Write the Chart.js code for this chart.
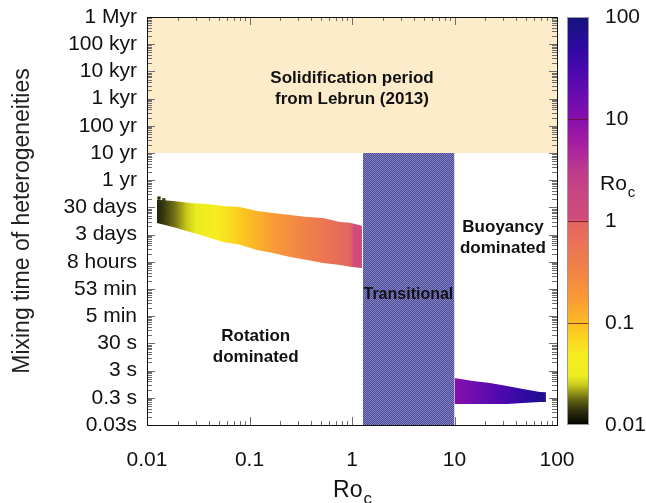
<!DOCTYPE html>
<html>
<head>
<meta charset="utf-8">
<script src="https://cdn.jsdelivr.net/npm/chart.js@4.4.0/dist/chart.umd.min.js"></script>
<style>
  html, body { margin: 0; padding: 0; background: #fff; }
  #wrap { width: 646px; height: 503px; }
</style>
</head>
<body>
<div id="wrap"><canvas id="mixChart" width="646" height="503"></canvas></div>
<script>
// Ro_c axis (also used by the colour bar)
const roTicks = [0.01, 0.1, 1, 10, 100];
const roTickLabels = ['0.01', '0.1', '1', '10', '100'];

// mixing time axis, values in years
const timeTicks = [1e-9, 1e-8, 1e-7, 1e-6, 1e-5, 1e-4, 1e-3, 1e-2, 1e-1, 1, 10, 100, 1e3, 1e4, 1e5, 1e6];
const timeTickLabels = ['0.03s', '0.3 s', '3 s', '30 s', '5 min', '53 min', '8 hours', '3 days',
                        '30 days', '1 yr', '10 yr', '100 yr', '1 kyr', '10 kyr', '100 kyr', '1 Myr'];

// rotation dominated runs: upper / lower envelope of mixing time (yr)
const rotRo    = [0.0125, 0.0179, 0.0263, 0.0385, 0.0551, 0.0808, 0.118, 0.170, 0.249, 0.364, 0.521, 0.764, 0.955, 1.25];
const rotUpper = [0.19, 0.172, 0.145, 0.133, 0.112, 0.104, 0.074, 0.062, 0.053, 0.044, 0.041, 0.029, 0.027, 0.021];
const rotLower = [0.0267, 0.0190, 0.0125, 0.0082, 0.0054, 0.0042, 0.0027, 0.0021, 0.0015, 0.00116, 0.0009, 0.00076, 0.00066, 0.00059];
// a couple of stray runs above the envelope
const rotStrayRo = [0.0131, 0.0146];
const rotStrayT  = [0.22, 0.19];

// buoyancy dominated runs
const buoyRo    = [10.0, 15.1, 22.2, 32.5, 46.6, 68.2, 78];
const buoyUpper = [5.35e-8, 4.15e-8, 3.5e-8, 2.71e-8, 2.11e-8, 1.63e-8, 1.6e-8];
const buoyLower = [5.9e-9, 5.9e-9, 5.9e-9, 5.9e-9, 6.4e-9, 7.0e-9, 7.0e-9];

// transitional regime (Ro_c range) and solidification period (yr)
const transRo = [1.28, 10];
const transTop = 10;
const solidRange = [10, 1e6];

const FONT = "'Liberation Sans', Arial, sans-serif";

// palette along log10(Ro_c), 0 -> 0.01, 1 -> 100
const cmapStops = [
  [0.00, '#000000'], [0.04, '#383810'], [0.066, '#6e6e14'], [0.097, '#c8c81c'], [0.12, '#ecec20'],
  [0.17, '#f6ee20'], [0.21, '#fbd620'], [0.25, '#fcbc24'], [0.31, '#f99a36'], [0.39, '#f08048'],
  [0.455, '#e87058'], [0.495, '#e26660'], [0.505, '#cf4c7a'], [0.58, '#c64482'], [0.625, '#bc3a8c'],
  [0.667, '#ae289c'], [0.70, '#a01aa4'], [0.75, '#860fab'], [0.81, '#680cb0'], [0.87, '#4a08ae'],
  [0.93, '#2c0aa0'], [1.00, '#14147a']
];

function hexRgb(h) {
  return [1, 3, 5].map(i => parseInt(h.slice(i, i + 2), 16));
}

function colorAt(ro) {
  const lo = Math.log10(roTicks[0]), hi = Math.log10(roTicks[roTicks.length - 1]);
  const t = Math.min(1, Math.max(0, (Math.log10(ro) - lo) / (hi - lo)));
  for (let i = 1; i < cmapStops.length; i++) {
    if (t <= cmapStops[i][0]) {
      const [t0, c0] = cmapStops[i - 1], [t1, c1] = cmapStops[i];
      const f = (t - t0) / (t1 - t0);
      const a = hexRgb(c0), b = hexRgb(c1);
      return 'rgb(' + a.map((v, k) => Math.round(v + (b[k] - v) * f)).join(',') + ')';
    }
  }
  return cmapStops[cmapStops.length - 1][1];
}

function paletteGradient(ctx, x0, y0, x1, y1) {
  const g = ctx.createLinearGradient(x0, y0, x1, y1);
  cmapStops.forEach(([t, c]) => g.addColorStop(t, c));
  return g;
}

// fill follows Ro_c along the x scale
function roFill(c) {
  const chart = c.chart;
  const xs = chart.scales.x;
  if (!chart.chartArea || !xs) return '#e07060';
  const a = xs.getPixelForValue(roTicks[0]);
  const b = xs.getPixelForValue(roTicks[roTicks.length - 1]);
  return paletteGradient(chart.ctx, a, 0, b, 0);
}

// fine checker used for the transitional band
function checkerPattern() {
  const tile = document.createElement('canvas');
  tile.width = 8; tile.height = 8;
  const g = tile.getContext('2d');
  g.fillStyle = '#4c4c98';
  g.fillRect(0, 0, 8, 8);
  g.fillStyle = '#8282c2';
  for (let i = 0; i < 8; i++)
    for (let j = 0; j < 8; j++)
      if ((i + j) % 2 === 0) g.fillRect(i, j, 1, 1);
  return g.createPattern(tile, 'repeat');
}

const pts = (xs, ys) => xs.map((v, i) => ({ x: v, y: ys[i] }));

const edge = { borderWidth: 0, pointRadius: 0, tension: 0, fill: false };

const SOLID_INDEX = 6;

const regionNotes = [
  { lines: ['Solidification period', 'from Lebrun (2013)'], ro: 1.0, t: 2300, size: 17 },
  { lines: ['Rotation', 'dominated'], ro: 0.115, t: 7.4e-7, size: 17 },
  { lines: ['Transitional'], ro: 3.55, t: 6e-5, size: 16 },
  { lines: ['Buoyancy', 'dominated'], ro: 29.7, t: 0.0075, size: 17 }
];

function drawRoC(ctx, x, y, size, align) {
  ctx.font = size + 'px ' + FONT;
  const wR = ctx.measureText('Ro').width;
  ctx.font = Math.round(size * 0.72) + 'px ' + FONT;
  const wc = ctx.measureText('c').width;
  const start = align === 'center' ? x - (wR + wc) / 2 : x;
  ctx.textAlign = 'left';
  ctx.textBaseline = 'alphabetic';
  ctx.font = size + 'px ' + FONT;
  ctx.fillText('Ro', start, y);
  ctx.font = Math.round(size * 0.72) + 'px ' + FONT;
  ctx.fillText('c', start + wR + 1, y + size * 0.3);
}

function drawTicks(chart) {
  const { ctx, chartArea: a, scales: { x, y } } = chart;
  ctx.save();
  ctx.strokeStyle = '#6e6e6e';
  ctx.lineWidth = 1;
  ctx.beginPath();
  for (let d = 0; d < roTicks.length - 1; d++) {
    for (let m = 1; m < 10; m++) {
      if (d === 0 && m === 1) continue;
      const px = Math.round(x.getPixelForValue(m * roTicks[d])) + 0.5;
      const len = m === 1 ? 8 : 4;
      ctx.moveTo(px, a.bottom); ctx.lineTo(px, a.bottom - len);
      ctx.moveTo(px, a.top); ctx.lineTo(px, a.top + len);
    }
  }
  for (let d = 0; d < timeTicks.length - 1; d++) {
    for (let m = 1; m < 10; m++) {
      if (d === 0 && m === 1) continue;
      const py = Math.round(y.getPixelForValue(m * timeTicks[d])) + 0.5;
      const len = m === 1 ? 8 : 5;
      ctx.moveTo(a.left, py); ctx.lineTo(a.left + len, py);
      ctx.moveTo(a.right, py); ctx.lineTo(a.right - len, py);
    }
  }
  ctx.stroke();
  ctx.restore();
}

// keep the tick labels from pushing the plot area inwards
function fixBox(width, height) {
  return s => {
    if (width !== null) s.width = width;
    if (height !== null) s.height = height;
    s.paddingTop = 0; s.paddingBottom = 0;
    s.paddingLeft = 0; s.paddingRight = 0;
  };
}

const decorations = {
  id: 'decorations',
  afterDatasetDraw(chart, args) {
    if (args.index === SOLID_INDEX) drawTicks(chart);
  },
  afterDatasetsDraw(chart) {
    const { ctx, chartArea: a, scales: { x, y } } = chart;
    ctx.save();
    ctx.fillStyle = '#111';
    ctx.textAlign = 'center';
    ctx.textBaseline = 'middle';
    regionNotes.forEach(n => {
      ctx.font = 'bold ' + n.size + 'px ' + FONT;
      const cx = x.getPixelForValue(n.ro);
      const cy = y.getPixelForValue(n.t);
      const lh = 21;
      n.lines.forEach((s, i) => {
        ctx.fillText(s, cx, cy + (i - (n.lines.length - 1) / 2) * lh);
      });
    });
    // plot frame
    ctx.strokeStyle = '#111';
    ctx.lineWidth = 1;
    ctx.strokeRect(Math.round(a.left) + 0.5, Math.round(a.top) + 0.5,
                   Math.round(a.right - a.left), Math.round(a.bottom - a.top));
    ctx.restore();
  },
  afterDraw(chart) {
    const { ctx, chartArea: a, scales: { cb } } = chart;
    ctx.save();
    // colour bar
    const top = cb.getPixelForValue(roTicks[roTicks.length - 1]);
    const bot = cb.getPixelForValue(roTicks[0]);
    const x0 = a.right + 10, w = 22;
    ctx.fillStyle = paletteGradient(ctx, 0, bot, 0, top);
    ctx.fillRect(x0, top, w, bot - top);
    ctx.strokeStyle = 'rgba(90,20,30,0.75)';
    ctx.beginPath();
    roTicks.slice(1, -1).forEach(v => {
      const py = Math.round(cb.getPixelForValue(v)) + 0.5;
      ctx.moveTo(x0, py); ctx.lineTo(x0 + w, py);
    });
    ctx.stroke();
    ctx.strokeStyle = '#9a9a9a';
    ctx.strokeRect(x0 + 0.5, top + 0.5, w - 1, bot - top - 1);
    ctx.fillStyle = '#111';
    drawRoC(ctx, a.right + 43, cb.getPixelForValue(2), 21, 'left');
    // x axis title
    drawRoC(ctx, (a.left + a.right) / 2, chart.height - 6, 23, 'center');
    ctx.restore();
  }
};

const tickFont = { family: FONT, size: 21 };
const noGrid = { display: false, drawTicks: false };

const mixChart = new Chart(document.getElementById('mixChart'), {
  type: 'line',
  data: {
    datasets: [
      { label: 'rotation upper', data: pts(rotRo, rotUpper), ...edge },
      { label: 'rotation lower', data: pts(rotRo, rotLower), ...edge, fill: '-1', backgroundColor: roFill },
      { label: 'rotation stray', data: pts(rotStrayRo, rotStrayT), showLine: false, pointStyle: 'rect',
        pointRadius: 2.3, pointBorderWidth: 0, pointBackgroundColor: c => colorAt(c.raw.x) },
      { label: 'buoyancy upper', data: pts(buoyRo, buoyUpper), ...edge },
      { label: 'buoyancy lower', data: pts(buoyRo, buoyLower), ...edge, fill: '-1', backgroundColor: roFill },
      { label: 'transitional', data: pts(transRo, [transTop, transTop]), ...edge,
        fill: { value: timeTicks[0] }, backgroundColor: checkerPattern() },
      { label: 'solidification', data: pts([roTicks[0], roTicks[roTicks.length - 1]], [solidRange[1], solidRange[1]]),
        ...edge, fill: { value: solidRange[0] }, backgroundColor: '#fcecca' }
    ]
  },
  options: {
    responsive: false,
    animation: false,
    devicePixelRatio: 1,
    layout: { padding: { top: 17, left: 0, right: 0, bottom: 0 } },
    plugins: { legend: { display: false }, tooltip: { enabled: false } },
    scales: {
      x: {
        type: 'logarithmic', position: 'bottom',
        min: roTicks[0], max: roTicks[roTicks.length - 1],
        afterBuildTicks: s => { s.ticks = roTicks.map(v => ({ value: v })); },
        afterFit: fixBox(null, 78),
        grid: noGrid, border: { display: false },
        ticks: { callback: (v, i) => roTickLabels[i], padding: 23, maxRotation: 0,
                 autoSkip: false, font: tickFont, color: '#111' }
      },
      y: {
        type: 'logarithmic', position: 'left',
        min: timeTicks[0], max: timeTicks[timeTicks.length - 1],
        afterBuildTicks: s => { s.ticks = timeTicks.map(v => ({ value: v })); },
        afterFit: fixBox(147, null),
        grid: noGrid, border: { display: false },
        ticks: { callback: (v, i) => timeTickLabels[i], padding: 10, autoSkip: false,
                 font: tickFont, color: '#111' },
        title: { display: true, text: 'Mixing time of heterogeneities', color: '#222',
                 font: { family: FONT, size: 23 }, padding: { top: 9, bottom: 0 } }
      },
      cb: {
        type: 'logarithmic', position: 'right',
        min: roTicks[0], max: roTicks[roTicks.length - 1],
        afterBuildTicks: s => { s.ticks = roTicks.map(v => ({ value: v })); },
        afterFit: fixBox(89, null),
        grid: noGrid, border: { display: false },
        ticks: { callback: (v, i) => roTickLabels[i], padding: 48, autoSkip: false,
                 font: tickFont, color: '#111' }
      }
    }
  },
  plugins: [decorations]
});
</script>
</body>
</html>
